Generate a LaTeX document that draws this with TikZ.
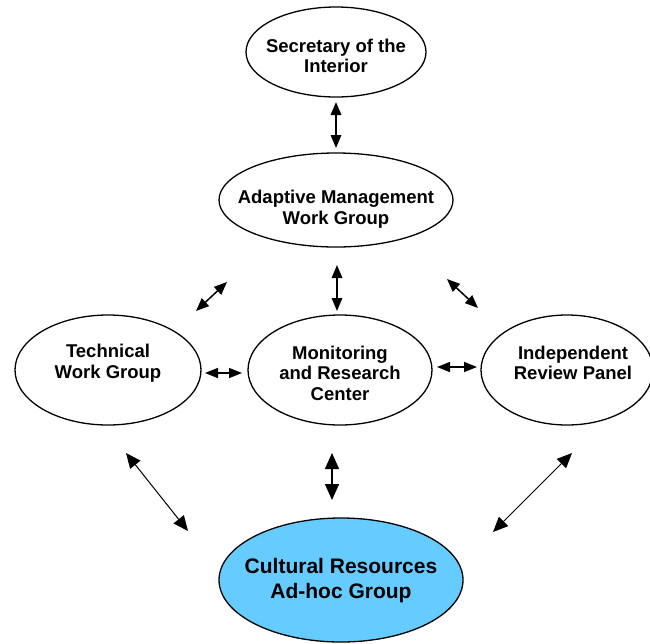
\documentclass[tikz,border=0pt]{standalone}
\usepackage{fontspec}
\setmainfont{Liberation Sans}
\usetikzlibrary{shapes.geometric,arrows.meta}
\definecolor{crblue}{RGB}{102,204,255}
\begin{document}
\begin{tikzpicture}[x=1pt,y=-1pt,
  org/.style={ellipse, draw, line width=1.3pt, inner sep=0pt},
  lbl/.style={align=center, font=\bfseries\fontsize{18.5}{20.5}\selectfont},
  biglbl/.style={align=center, font=\bfseries\fontsize{21}{25}\selectfont},
  link/.style={line width=1.5pt, {Triangle[length=13pt,width=10.5pt]}-{Triangle[length=13pt,width=10.5pt]}},
  hlink/.style={line width=1.5pt, {Triangle[length=13pt,width=10pt]}-{Triangle[length=13pt,width=10pt]}},
  blink/.style={line width=1pt, {Triangle[length=15pt,width=13pt]}-{Triangle[length=15pt,width=13pt]}},
  bmid/.style={line width=1.5pt, {Triangle[length=16pt,width=14pt]}-{Triangle[length=16pt,width=14pt]}}]
\useasboundingbox (0,0) rectangle (650,643);

% ellipses
\node[org, minimum width=180pt, minimum height=90pt] (sec) at (336,52) {};
\node[org, minimum width=234pt, minimum height=94pt] (amwg) at (336,200) {};
\node[org, minimum width=186pt, minimum height=110pt] (twg) at (108,370) {};
\node[org, minimum width=184pt, minimum height=110pt] (mrc) at (340,370) {};
\node[org, minimum width=172pt, minimum height=110pt] (irp) at (567,370) {};
\node[org, fill=crblue, minimum width=244pt, minimum height=124pt] (crag) at (341,580) {};

% labels
\node[lbl] (secT) at ([yshift=-4pt]sec.center) {Secretary of the\\Interior};
\node[lbl] (amwgT) at ([yshift=-9pt]amwg.center) {Adaptive Management\\Work Group};
\node[lbl] (twgT) at ([yshift=7pt]twg.center) {Technical\\Work Group};
\node[lbl] (mrcT) at ([yshift=-3pt]mrc.center) {Monitoring\\and Research\\Center};
\node[lbl] (irpT) at ([xshift=6pt,yshift=7pt]irp.center) {Independent\\Review Panel};
\node[biglbl] (cragT) at ([yshift=-1pt]crag.center) {Cultural Resources\\Ad-hoc Group};

% connector ends
\coordinate (sA) at (336,102);  \coordinate (sB) at (336,148);
\coordinate (mA) at (337,265);  \coordinate (mB) at (337,311);
\coordinate (lA) at (227,282);  \coordinate (lB) at (196,311);
\coordinate (rA) at (447,279);  \coordinate (rB) at (478,308);
\coordinate (htA) at (205,373); \coordinate (htB) at (242,373);
\coordinate (hiA) at (437,367); \coordinate (hiB) at (477,367);
\coordinate (blA) at (126,453); \coordinate (blB) at (188,531);
\coordinate (bmA) at (332,453); \coordinate (bmB) at (332,500);
\coordinate (brA) at (572,453); \coordinate (brB) at (493,532);

\draw[link] (sA) -- (sB);
\draw[link] (mA) -- (mB);
\draw[link] (lA) -- (lB);
\draw[link] (rA) -- (rB);
\draw[hlink] (htA) -- (htB);
\draw[hlink] (hiA) -- (hiB);
\draw[blink] (blA) -- (blB);
\draw[bmid] (bmA) -- (bmB);
\draw[blink] (brA) -- (brB);
\end{tikzpicture}
\end{document}
